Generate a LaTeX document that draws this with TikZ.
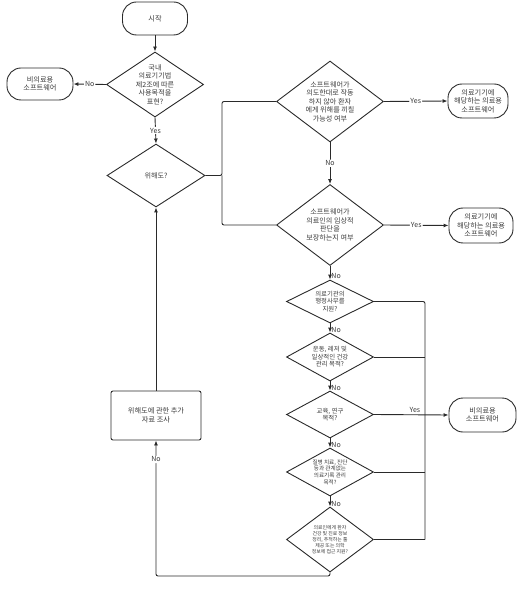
\documentclass[tikz,border=0pt]{standalone}
\usepackage{fontspec}
\setmainfont{Noto Sans CJK KR}
\usetikzlibrary{shapes.geometric,arrows.meta}
\definecolor{txtc}{HTML}{3A3A3A}
\definecolor{linec}{HTML}{2A2A2A}
\tikzset{
  base/.style={draw=linec, line width=0.9pt, text=txtc, align=center, inner sep=0pt},
  term/.style={base, rectangle, rounded corners=14pt},
  proc/.style={base, rectangle, rounded corners=2pt},
  dia/.style={base, diamond},
  txt/.style={text=txtc, align=center, inner sep=0pt, font=\fontsize{7.1}{8.5}\selectfont},
  txtm/.style={text=txtc, align=center, inner sep=0pt, font=\fontsize{6.4}{7.6}\selectfont},
  txts/.style={text=txtc, align=center, inner sep=0pt, font=\fontsize{5.6}{6.6}\selectfont},
  txtxs/.style={text=txtc, align=center, inner sep=0pt, font=\fontsize{4.9}{6.0}\selectfont},
  conn/.style={draw=linec, line width=0.9pt, rounded corners=2pt},
  arr/.style={conn, -{Latex[length=5pt,width=4pt]}},
  lab/.style={fill=white, text=txtc, inner sep=1pt, font=\fontsize{7}{8}\selectfont},
  labr/.style={text=txtc, inner sep=1pt, font=\fontsize{7}{8}\selectfont, anchor=west}
}
\begin{document}
\begin{tikzpicture}[x=1pt,y=-1pt]
\useasboundingbox (0,0) rectangle (525,593);
% nodes
\node[term, minimum width=65pt, minimum height=33pt, font=\fontsize{7.2}{8.6}\selectfont] (start) at (155,18.5) {시작};
\node[dia, minimum width=97pt, minimum height=65pt, label={[txt]center:국내\\의료기기법\\제2조에 따른\\사용목적을\\표현?}] (d1) at (155,84.5) {};
\node[term, minimum width=66pt, minimum height=32pt, font=\fontsize{7.2}{8.6}\selectfont] (nm1) at (40,84) {비의료용\\소프트웨어};
\node[dia, minimum width=98pt, minimum height=63pt, label={[txt]center:위해도?}] (d2) at (156,175.5) {};
\node[dia, minimum width=107pt, minimum height=81pt, label={[txt]center:소프트웨어가\\의도한대로 작동\\하지 않아 환자\\에게 위해를 끼칠\\가능성 여부}] (d3) at (330,101.5) {};
\node[term, minimum width=60pt, minimum height=34pt, font=\fontsize{7.2}{8.6}\selectfont] (m1) at (478,101) {의료기기에\\해당하는 의료용\\소프트웨어};
\node[dia, minimum width=107pt, minimum height=81pt, label={[txt]center:소프트웨어가\\의료인의 임상적\\판단을\\보장하는지 여부}] (d4) at (330,225) {};
\node[term, minimum width=64pt, minimum height=35pt, font=\fontsize{7.2}{8.6}\selectfont] (m2) at (481,225.5) {의료기기에\\해당하는 의료용\\소프트웨어};
\node[dia, minimum width=87pt, minimum height=43pt, label={[txtm]center:의료기관의\\행정사무를\\지원?}] (d5) at (330,301.5) {};
\node[dia, minimum width=87pt, minimum height=48pt, label={[txtm]center:운동, 레저 및\\일상적인 건강\\관리 목적?}] (d6) at (330,357) {};
\node[dia, minimum width=87pt, minimum height=47pt, label={[txtm]center:교육, 연구\\목적?}] (d7) at (330,414.5) {};
\node[term, minimum width=67pt, minimum height=34pt, font=\fontsize{7.2}{8.6}\selectfont] (nm2) at (482.5,415) {비의료용\\소프트웨어};
\node[dia, minimum width=87pt, minimum height=48pt, label={[txts]center:질병 치료, 진단\\등과 관계없는\\의료기록 관리\\목적?}] (d8) at (330,472) {};
\node[dia, minimum width=87pt, minimum height=65pt, label={[txtxs]center:의료인에게 환자\\건강 및 진료 정보\\정리, 추적하는 툴\\제공 또는 의학\\정보에 접근 지원?}] (d9) at (330,539.5) {};
\node[proc, minimum width=90pt, minimum height=49pt, font=\fontsize{7.2}{8.6}\selectfont] (box) at (156,415.5) {위해도에 관한 추가\\자료 조사};
% helper coordinates
\coordinate (br) at (222,175.5);
\coordinate (vt) at (425,301.5);
\coordinate (vb) at (425,539.5);
\coordinate (bl) at (330,576);
% connectors
\draw[arr] (start) -- (d1);
\draw[arr] (d1.west) -- node[lab]{No} (nm1.east);
\draw[arr] (d1.south) -- node[lab]{Yes} (d2.north);
\draw[conn] (d2.east) -- (br) |- (d3.west);
\draw[conn] (br) |- (d4.west);
\draw[arr] (d3.east) -- node[lab]{Yes} (m1.west);
\draw[arr] (d3.south) -- node[lab]{No} (d4.north);
\draw[arr] (d4.east) -- node[lab]{Yes} (m2.west);
\draw[arr] (d4.south) -- node[labr, pos=0.75]{No} (d5.north);
\draw[arr] (d5.south) -- node[labr, pos=0.7]{No} (d6.north);
\draw[arr] (d6.south) -- node[labr, pos=0.7]{No} (d7.north);
\draw[arr] (d7.south) -- node[labr, pos=0.7]{No} (d8.north);
\draw[arr] (d8.south) -- node[labr, pos=0.7]{No} (d9.north);
\draw[conn] (d5.east) -- (vt) -- (vb);
\draw[conn] (d6.east) -- (d6.east -| vt);
\draw[conn] (d8.east) -- (d8.east -| vt);
\draw[conn] (d9.east) -- (vb);
\draw[arr] (d7.east) -- node[pos=0.55, above, text=txtc, inner sep=2pt, font=\fontsize{7}{8}\selectfont]{Yes} (nm2.west);
\draw[arr] (d9.south) -- (bl) -| node[lab, pos=0.93]{No} (box.south);
\draw[arr] (box.north) -- (d2.south);
\end{tikzpicture}
\end{document}
